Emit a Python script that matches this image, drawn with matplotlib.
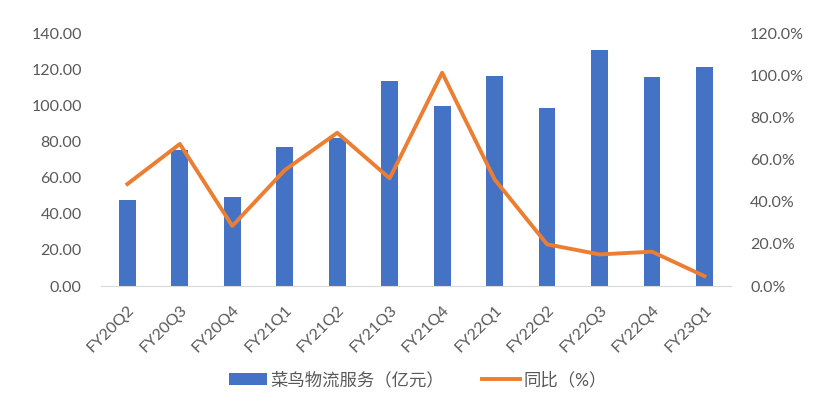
import numpy as np
import matplotlib.pyplot as plt
from matplotlib.ticker import FuncFormatter
from matplotlib.transforms import ScaledTranslation

plt.rcParams['font.family'] = ['Lato', 'Noto Sans CJK SC', 'DejaVu Sans']

quarters = ["FY20Q2", "FY20Q3", "FY20Q4", "FY21Q1", "FY21Q2", "FY21Q3",
            "FY21Q4", "FY22Q1", "FY22Q2", "FY22Q3", "FY22Q4", "FY23Q1"]
revenue = [47.6, 75.3, 49.4, 77.1, 82.1, 113.4, 99.6, 116.2, 98.5, 130.6, 115.7, 121.2]
yoy_pct = [48.4, 67.4, 28.5, 55.0, 72.7, 51.1, 101.2, 50.6, 19.8, 15.0, 16.3, 4.7]

blue = "#4472C4"
orange = "#ED7D31"
gray = "#595959"

fig = plt.figure(figsize=(8.36, 4.04), dpi=100)
ax = fig.add_axes([0.121, 0.292, 0.753, 0.626])
ax2 = ax.twinx()

x = np.arange(len(quarters))
bars = ax.bar(x, revenue, width=0.32, color=blue, label="菜鸟物流服务（亿元）", zorder=2)
line, = ax2.plot(x, yoy_pct, color=orange, lw=2.8, label="同比（%）", zorder=3)

ax.set_xlim(-0.5, len(quarters) - 0.5)
ax.set_ylim(0, 140)
ax.set_yticks(np.arange(0, 141, 20))
ax.yaxis.set_major_formatter(FuncFormatter(lambda v, p: f"{v:.2f}"))
ax2.set_ylim(0, 120)
ax2.set_yticks(np.arange(0, 121, 20))
ax2.yaxis.set_major_formatter(FuncFormatter(lambda v, p: f"{v:.1f}%"))

ax.set_xticks(x)
ax.set_xticklabels(quarters, rotation=45, ha="right", rotation_mode="anchor")
shift = ScaledTranslation(5 / 100, 0, fig.dpi_scale_trans)
for lab in ax.get_xticklabels():
    lab.set_transform(lab.get_transform() + shift)

for a in (ax, ax2):
    for s in a.spines.values():
        s.set_visible(False)
    a.tick_params(length=0, labelsize=11.5, colors=gray)
ax.spines["bottom"].set_visible(True)
ax.spines["bottom"].set_color("#D9D9D9")
ax.tick_params(axis="y", pad=14)
ax2.tick_params(axis="y", pad=14)
ax.tick_params(axis="x", pad=12)

ax2.set_zorder(ax.get_zorder() + 1)
ax2.patch.set_visible(False)

fig.legend([bars, line], ["菜鸟物流服务（亿元）", "同比（%）"], loc="lower center",
           bbox_to_anchor=(0.5, 0.0), ncol=2, frameon=False, fontsize=12.5,
           labelcolor=gray, handlelength=2.2, handletextpad=0.2, columnspacing=2.2)

fig.savefig("out.png", dpi=100)
